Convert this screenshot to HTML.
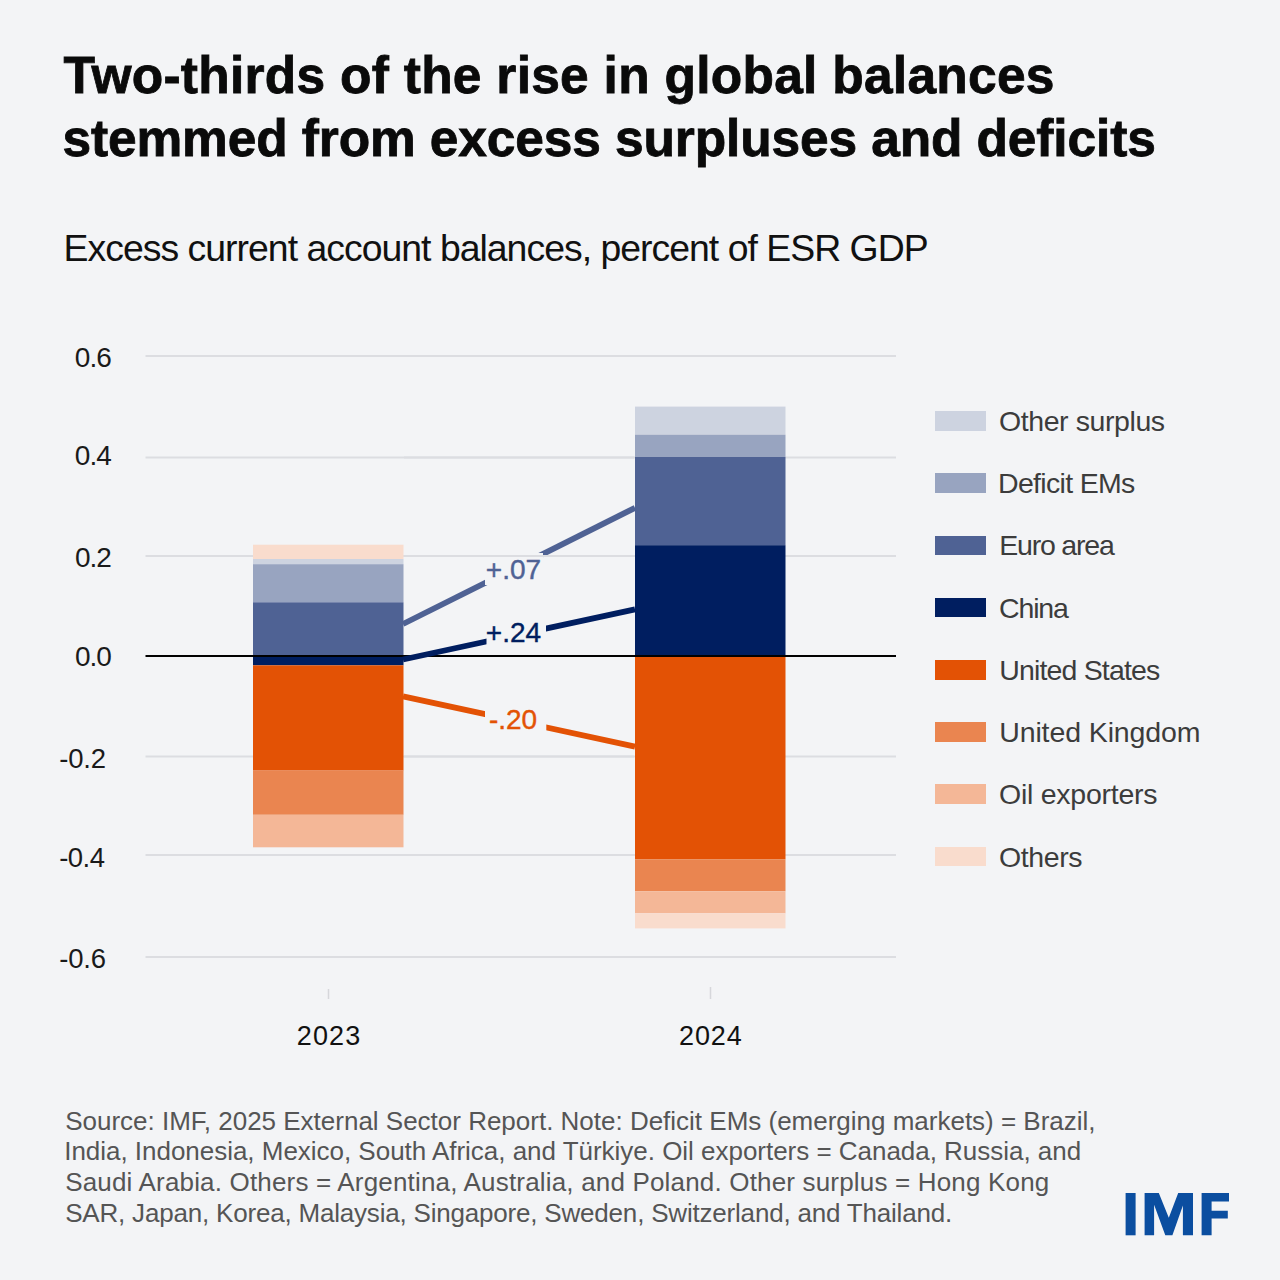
<!DOCTYPE html>
<html><head><meta charset="utf-8">
<style>
html,body{margin:0;padding:0;}
body{width:1280px;height:1280px;background:#f3f4f6;position:relative;overflow:hidden;font-family:"Liberation Sans",sans-serif;}
.t{position:absolute;white-space:nowrap;line-height:1;}
.sw{position:absolute;left:935px;width:51px;}
</style></head>
<body>
<svg width="1280" height="1280" style="position:absolute;left:0;top:0">
<g stroke="#dcdde1" stroke-width="2">
<line x1="145.5" x2="896" y1="356" y2="356"/>
<line x1="145.5" x2="896" y1="457.5" y2="457.5"/>
<line x1="145.5" x2="896" y1="556" y2="556"/>
<line x1="145.5" x2="896" y1="756.5" y2="756.5"/>
<line x1="145.5" x2="896" y1="855" y2="855"/>
<line x1="145.5" x2="896" y1="957" y2="957"/>
</g>
<rect x="253" width="150.5" y="544.7" height="14.3" fill="#f9dccd"/>
<rect x="253" width="150.5" y="559.0" height="5.2" fill="#cdd3e0"/>
<rect x="253" width="150.5" y="564.2" height="38.1" fill="#98a4c0"/>
<rect x="253" width="150.5" y="602.3" height="53.7" fill="#4f6294"/>
<rect x="253" width="150.5" y="656" height="9.3" fill="#001e60"/>
<rect x="253" width="150.5" y="665.3" height="105.3" fill="#e35205"/>
<rect x="253" width="150.5" y="770.6" height="44.2" fill="#ea8550"/>
<rect x="253" width="150.5" y="814.8" height="32.5" fill="#f4b797"/>
<rect x="635" width="150.5" y="406.6" height="28.1" fill="#cdd3e0"/>
<rect x="635" width="150.5" y="434.7" height="22.3" fill="#98a4c0"/>
<rect x="635" width="150.5" y="457" height="88.2" fill="#4f6294"/>
<rect x="635" width="150.5" y="545.2" height="110.8" fill="#001e60"/>
<rect x="635" width="150.5" y="656" height="203.2" fill="#e35205"/>
<rect x="635" width="150.5" y="859.2" height="32.0" fill="#ea8550"/>
<rect x="635" width="150.5" y="891.2" height="22.1" fill="#f4b797"/>
<rect x="635" width="150.5" y="913.3" height="15.1" fill="#f9dccd"/>
<line x1="145.5" x2="896" y1="656" y2="656" stroke="#000" stroke-width="2"/>
<g stroke-width="5.8" fill="none">
<line x1="403" y1="624" x2="635" y2="507.8" stroke="#4f6294"/>
<line x1="403" y1="659.5" x2="635" y2="609.3" stroke="#001e60"/>
<line x1="403" y1="696.4" x2="635" y2="746.6" stroke="#e35205"/>
</g>
<g fill="#f3f4f6">
<rect x="485" y="553" width="58" height="32"/>
<rect x="486.5" y="615" width="59.5" height="32"/>
<rect x="485" y="703" width="61.3" height="32"/>
</g>
<g stroke="#dcdde1" stroke-width="2">
<line x1="404" x2="634" y1="356" y2="356"/>
<line x1="404" x2="634" y1="457.5" y2="457.5"/>
<line x1="404" x2="634" y1="556" y2="556"/>
<line x1="404" x2="634" y1="756.5" y2="756.5"/>
<line x1="404" x2="634" y1="855" y2="855"/>
<line x1="404" x2="634" y1="957" y2="957"/>
</g>
<g font-family="Liberation Sans" font-size="28" text-anchor="middle">
<text id="l07" x="513.5" y="578.5" fill="#4f6294" stroke="#4f6294" stroke-width="0.4" letter-spacing="0">+.07</text>
<text id="l24" x="513.5" y="642" fill="#001e60" stroke="#001e60" stroke-width="0.4" letter-spacing="0">+.24</text>
<text id="l20" x="513" y="728.5" fill="#e35205" stroke="#e35205" stroke-width="0.4" letter-spacing="0">-.20</text>
</g>
<g stroke="#d6d7db" stroke-width="1.5">
<line x1="328.5" x2="328.5" y1="989" y2="999"/>
<line x1="710.5" x2="710.5" y1="987" y2="999"/>
</g>
<g fill="#0b4ea0">
<rect x="1125.6" y="1193" width="10" height="42.3"/>
<path d="M1144.6,1193 H1158.8 L1168.8,1217.8 L1178.2,1193 H1193 V1235.3 H1182.9 V1205.6 L1172.4,1235.3 H1165.3 L1154.1,1204.7 V1235.3 H1144.6 Z"/>
<path d="M1201.6,1193 H1229 V1201.4 H1211.6 V1210.8 H1227.8 V1218.5 H1211.6 V1235.3 H1201.6 Z"/>
</g>
</svg>
<div class="sw" style="top:411.3px;height:19.5px;background:#cdd3e0"></div>
<div class="sw" style="top:473.48px;height:19.5px;background:#98a4c0"></div>
<div class="sw" style="top:535.66px;height:19.5px;background:#4f6294"></div>
<div class="sw" style="top:597.84px;height:19.5px;background:#001e60"></div>
<div class="sw" style="top:660.02px;height:19.5px;background:#e35205"></div>
<div class="sw" style="top:722.2px;height:19.5px;background:#ea8550"></div>
<div class="sw" style="top:784.38px;height:19.5px;background:#f4b797"></div>
<div class="sw" style="top:846.56px;height:19.5px;background:#f9dccd"></div>
<div class="t" id="title1" style="left:63.5px;top:50.0px;font-size:51.5px;letter-spacing:0.261px;font-weight:bold;color:#0a0a0a;-webkit-text-stroke:0.8px #0a0a0a;">Two-thirds of the rise in global balances</div>
<div class="t" id="title2" style="left:62.4px;top:112.6px;font-size:51.5px;letter-spacing:-0.137px;font-weight:bold;color:#0a0a0a;-webkit-text-stroke:0.8px #0a0a0a;">stemmed from excess surpluses and deficits</div>
<div class="t" id="sub" style="left:63.6px;top:230.4px;font-size:37.4px;letter-spacing:-0.988px;color:#111;">Excess current account balances, percent of ESR GDP</div>
<div class="t" id="y6" style="left:74.8px;top:343.9px;font-size:28px;letter-spacing:-0.9px;color:#1a1a1a;">0.6</div>
<div class="t" id="y4" style="left:74.8px;top:442.0px;font-size:28px;letter-spacing:-0.9px;color:#1a1a1a;">0.4</div>
<div class="t" id="y2" style="left:75.0px;top:544.1px;font-size:28px;letter-spacing:-1.0px;color:#1a1a1a;">0.2</div>
<div class="t" id="y0" style="left:75.0px;top:642.8px;font-size:28px;letter-spacing:-1.0px;color:#1a1a1a;">0.0</div>
<div class="t" id="ym2" style="left:59.2px;top:745.1px;font-size:27.5px;letter-spacing:-0.199px;color:#1a1a1a;">-0.2</div>
<div class="t" id="ym4" style="left:59.2px;top:843.7px;font-size:27.5px;letter-spacing:-0.533px;color:#1a1a1a;">-0.4</div>
<div class="t" id="ym6" style="left:59.2px;top:945.37px;font-size:27.5px;letter-spacing:-0.199px;color:#1a1a1a;">-0.6</div>
<div class="t" id="x23" style="left:296.8px;top:1023.2px;font-size:27px;letter-spacing:1.134px;color:#111;">2023</div>
<div class="t" id="x24" style="left:679.0px;top:1022.7px;font-size:27px;letter-spacing:0.867px;color:#111;">2024</div>
<div class="t" id="g1" style="left:999.0px;top:407.0px;font-size:28.5px;letter-spacing:-0.417px;color:#3c3c3c;">Other surplus</div>
<div class="t" id="g2" style="left:998.0px;top:468.8px;font-size:28.5px;letter-spacing:-0.68px;color:#3c3c3c;">Deficit EMs</div>
<div class="t" id="g3" style="left:999.2px;top:531.2px;font-size:28.5px;letter-spacing:-1.2px;color:#3c3c3c;">Euro area</div>
<div class="t" id="g4" style="left:999.0px;top:593.6px;font-size:28.5px;letter-spacing:-1.15px;color:#3c3c3c;">China</div>
<div class="t" id="g5" style="left:999.2px;top:656.2px;font-size:28.5px;letter-spacing:-0.833px;color:#3c3c3c;">United States</div>
<div class="t" id="g6" style="left:999.2px;top:717.6px;font-size:28.5px;letter-spacing:-0.109px;color:#3c3c3c;">United Kingdom</div>
<div class="t" id="g7" style="left:999.0px;top:780.4px;font-size:28.5px;letter-spacing:-0.25px;color:#3c3c3c;">Oil exporters</div>
<div class="t" id="g8" style="left:999.0px;top:842.5px;font-size:28.5px;letter-spacing:-0.4px;color:#3c3c3c;">Others</div>
<div class="t" id="n1" style="left:65.2px;top:1108.4px;font-size:26px;letter-spacing:-0.007px;color:#555555;">Source: IMF, 2025 External Sector Report. Note: Deficit EMs (emerging markets) = Brazil,</div>
<div class="t" id="n2" style="left:64.2px;top:1138.4px;font-size:26px;letter-spacing:-0.025px;color:#555555;">India, Indonesia, Mexico, South Africa, and Türkiye. Oil exporters = Canada, Russia, and</div>
<div class="t" id="n3" style="left:65.2px;top:1169.4px;font-size:26px;letter-spacing:0.176px;color:#555555;">Saudi Arabia. Others = Argentina, Australia, and Poland. Other surplus = Hong Kong</div>
<div class="t" id="n4" style="left:65.2px;top:1199.6px;font-size:26px;letter-spacing:-0.197px;color:#555555;">SAR, Japan, Korea, Malaysia, Singapore, Sweden, Switzerland, and Thailand.</div>
</body></html>
